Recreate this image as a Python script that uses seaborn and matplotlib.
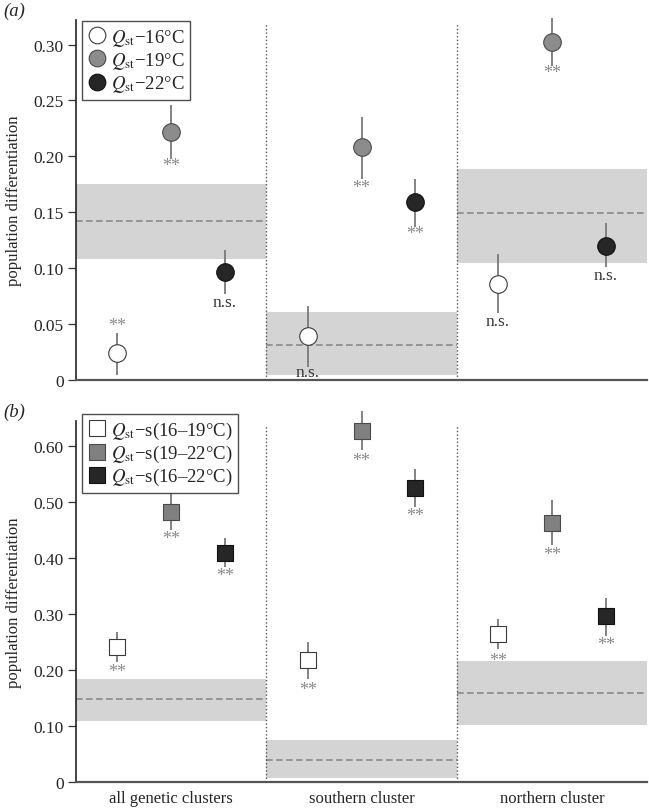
import matplotlib

matplotlib.use("Agg")

import matplotlib.pyplot as plt
import numpy as np
import pandas as pd
import seaborn as sns
from matplotlib.lines import Line2D

clusters = ["all genetic clusters", "southern cluster", "northern cluster"]

# (a) Qst at each temperature, rows = series, cols = cluster
qst_labels = [r"$Q_{\mathrm{st}}$−16°C", r"$Q_{\mathrm{st}}$−19°C", r"$Q_{\mathrm{st}}$−22°C"]
qst_mean = [[0.024, 0.0395, 0.0856], [0.222, 0.208, 0.302], [0.0964, 0.159, 0.120]]
qst_low = [[0.0045, 0.012, 0.060], [0.1976, 0.180, 0.281], [0.077, 0.137, 0.101]]
qst_high = [[0.042, 0.0665, 0.1126], [0.246, 0.235, 0.3237], [0.1165, 0.1795, 0.1407]]
qst_sig = [["**", "n.s.", "n.s."], ["**", "**", "**"], ["n.s.", "**", "n.s."]]
qst_sig_y = [[0.0485, 0.0072, 0.053], [0.1917, 0.1726, 0.2753], [0.070, 0.1314, 0.094]]
fst_a_mean = [0.142, 0.031, 0.149]
fst_a_low = [0.108, 0.0042, 0.1048]
fst_a_high = [0.175, 0.0605, 0.189]
ticks_a = [0, 0.05, 0.10, 0.15, 0.20, 0.25, 0.30]
ticklabels_a = ["0", "0.05", "0.10", "0.15", "0.20", "0.25", "0.30"]

# (b) Qst-s between temperature pairs
qsts_labels = [r"$Q_{\mathrm{st}}$−s(16–19°C)", r"$Q_{\mathrm{st}}$−s(19–22°C)",
               r"$Q_{\mathrm{st}}$−s(16–22°C)"]
qsts_mean = [[0.2407, 0.2174, 0.2647], [0.482, 0.628, 0.462], [0.410, 0.525, 0.2958]]
qsts_low = [[0.2144, 0.184, 0.237], [0.4494, 0.593, 0.423], [0.385, 0.4916, 0.261]]
qsts_high = [[0.268, 0.250, 0.291], [0.516, 0.663, 0.5036], [0.4357, 0.560, 0.328]]
qsts_sig = [["**", "**", "**"], ["**", "**", "**"], ["**", "**", "**"]]
qsts_sig_y = [[0.1976, 0.1653, 0.2168], [0.4345, 0.575, 0.407], [0.369, 0.4768, 0.246]]
fst_b_mean = [0.1485, 0.039, 0.1587]
fst_b_low = [0.109, 0.0066, 0.1018]
fst_b_high = [0.1844, 0.0749, 0.216]
ticks_b = [0, 0.10, 0.20, 0.30, 0.40, 0.50, 0.60]
ticklabels_b = ["0", "0.10", "0.20", "0.30", "0.40", "0.50", "0.60"]

fills = ["#ffffff", "#8c8c8c", "#262626"]
edges = ["#3a3a3a", "#4a4a4a", "#111111"]
fills_b = ["#ffffff", "#808080", "#262626"]

sns.set_style("ticks")
plt.rcParams["font.family"] = ["Liberation Serif", "DejaVu Serif"]
plt.rcParams["mathtext.fontset"] = "stix"

W, H = 649, 812
fig = plt.figure(figsize=(W / 100, H / 100), dpi=100)
ax_a = fig.add_axes([76 / W, 1 - 381 / H, 571 / W, 360 / H])
ax_b = fig.add_axes([76 / W, 1 - 783 / H, 571 / W, 361 / H])


def draw_panel(ax, labels, mean, low, high, sig, sig_y, f_mean, f_low, f_high,
               ticks, ticklabels, ymax, marker, msize, leg_msize, colors, tag, leg_top):
    n = len(labels)
    offsets = (np.arange(n) - 1) * 0.283
    rows = []
    for i, lab in enumerate(labels):
        for j, cl in enumerate(clusters):
            rows.append({"x": j + 0.5 + offsets[i], "y": mean[i][j], "lo": low[i][j],
                         "hi": high[i][j], "series": lab, "sig": sig[i][j],
                         "sig_y": sig_y[i][j]})
    df = pd.DataFrame(rows)

    # Fst background bands and means
    for j in range(len(clusters)):
        ax.fill_between([j, j + 1], f_low[j], f_high[j], color="#d4d4d4", lw=0, zorder=0)
        ax.plot([j, j + 1], [f_mean[j], f_mean[j]], ls=(0, (4, 2)), color="#8a8a8a",
                lw=1.2, zorder=1)
    for xd in [1, 2]:
        ax.plot([xd, xd], [0, ymax * 0.988], ls=(0, (1, 1.6)), color="#555555", lw=1,
                zorder=1)

    ax.vlines(df["x"], df["lo"], df["hi"], color="#7a7a7a", lw=1.3, zorder=2,
              clip_on=False)
    for i, lab in enumerate(labels):
        sub = df[df["series"] == lab]
        sns.scatterplot(data=sub, x="x", y="y", marker=marker, s=msize, color=colors[i],
                        edgecolor=edges[i], linewidth=0.8, zorder=3, ax=ax,
                        clip_on=False, legend=False)
    for _, r in df.iterrows():
        is_ns = r["sig"] == "n.s."
        ax.text(r["x"], r["sig_y"], r["sig"], ha="center", va="center",
                fontsize=12.5 if is_ns else 13,
                color="#333333" if is_ns else "#8a8a8a", zorder=4)

    ax.set_xlim(0, 3)
    ax.set_ylim(0, ymax)
    ax.set_yticks(ticks)
    ax.set_yticklabels(ticklabels, fontsize=12.5)
    ax.set_xticks([])
    ax.set_xlabel("")
    ax.set_ylabel("population differentiation", fontsize=12, labelpad=8)
    ax.tick_params(axis="y", length=6, width=0.9, color="#333333", pad=3)
    sns.despine(ax=ax)
    ax.spines["left"].set_linewidth(1.2)
    ax.spines["left"].set_color("#222222")
    ax.spines["bottom"].set_linewidth(1.6)
    ax.spines["bottom"].set_color("#555555")

    handles = [Line2D([], [], marker=marker, ls="none", markersize=leg_msize,
                      markerfacecolor=colors[i], markeredgecolor=edges[i],
                      markeredgewidth=0.8) for i in range(n)]
    pos = ax.get_position()
    leg = ax.legend(handles, labels, loc="upper left",
                    bbox_to_anchor=(82 / W, 1 - leg_top / H), bbox_transform=fig.transFigure,
                    borderaxespad=0, frameon=True, fancybox=False, fontsize=13.5,
                    handletextpad=0.25, handlelength=1.0, labelspacing=0.12,
                    borderpad=0.3)
    leg.get_frame().set_edgecolor("#222222")
    leg.get_frame().set_linewidth(1.0)
    fig.text(3 / W, pos.y1 + 10 / H, tag, fontsize=13.5, style="italic", va="center")


draw_panel(ax_a, qst_labels, qst_mean, qst_low, qst_high, qst_sig, qst_sig_y,
           fst_a_mean, fst_a_low, fst_a_high, ticks_a, ticklabels_a, 0.322, "o", 160,
           12, fills, "(a)", 22)
draw_panel(ax_b, qsts_labels, qsts_mean, qsts_low, qsts_high, qsts_sig, qsts_sig_y,
           fst_b_mean, fst_b_low, fst_b_high, ticks_b, ticklabels_b, 0.645, "s", 132,
           11, fills_b, "(b)", 415)

for j, cl in enumerate(clusters):
    ax_b.text(j + 0.5, -0.028, cl, ha="center", va="center", fontsize=12,
              transform=ax_b.transData, clip_on=False)

fig.savefig("out.png", dpi=100)
